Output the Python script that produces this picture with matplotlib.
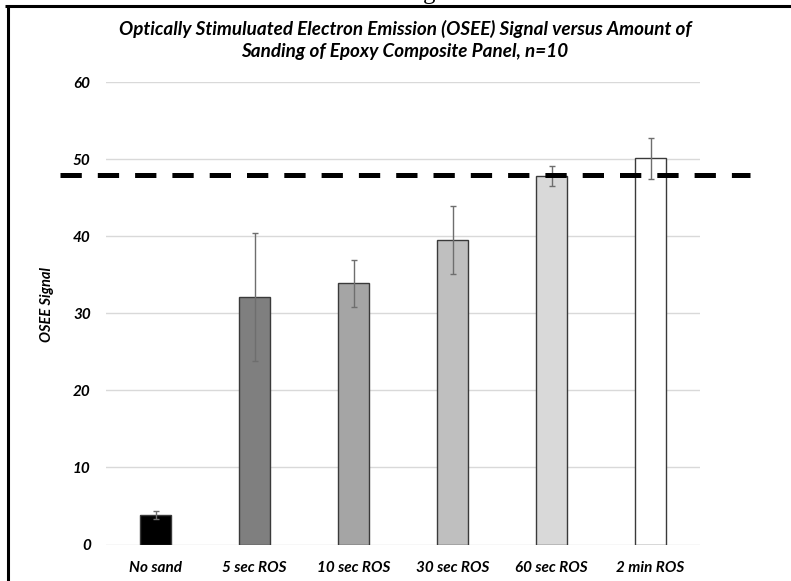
import matplotlib
matplotlib.use('Agg')
from matplotlib import pyplot as plt
from matplotlib.lines import Line2D
import numpy as np

plt.rcParams['font.family'] = ['Lato', 'DejaVu Sans']

categories = ['No sand', '5 sec ROS', '10 sec ROS', '30 sec ROS', '60 sec ROS', '2 min ROS']
signal = [3.8, 32.1, 33.9, 39.5, 47.8, 50.1]
signal_err = [0.5, 8.3, 3.05, 4.35, 1.3, 2.7]
bar_colors = ['#000000', '#7f7f7f', '#a5a5a5', '#bfbfbf', '#d9d9d9', '#ffffff']
threshold = 48
y_ticks = [0, 10, 20, 30, 40, 50, 60]

fig = plt.figure(figsize=(7.91, 5.81), dpi=100)
ax = fig.add_axes([106 / 791, 36.5 / 581, 594 / 791, 462.5 / 581])

x = np.arange(len(categories))
ax.bar(x, signal, width=0.31, color=bar_colors, edgecolor='#3a3a3a', linewidth=1.0, zorder=2)
ax.errorbar(x, signal, yerr=signal_err, fmt='none', ecolor='#6e6e6e', elinewidth=1.0,
            capsize=2.5, capthick=1.0, zorder=3)

# threshold line reaches past the plot area on both sides
ax.plot([-0.965, 6.005], [threshold, threshold], color='black', lw=3.6,
        dashes=(4.26, 3.2), solid_capstyle='butt', dash_capstyle='butt',
        clip_on=False, zorder=4)

ax.set_xlim(-0.5, 5.5)
ax.set_ylim(0, 60)
ax.set_yticks(y_ticks)
ax.set_xticks(x)
ax.set_xticklabels(categories)
ax.yaxis.grid(True, color='#d9d9d9', lw=1.0)
ax.set_axisbelow(True)
for s in ax.spines.values():
    s.set_visible(False)
ax.tick_params(length=0)
ax.tick_params(axis='y', pad=11)
ax.tick_params(axis='x', pad=12)
for lab in ax.get_xticklabels() + ax.get_yticklabels():
    lab.set_fontsize(11)
    lab.set_fontweight('bold')
    lab.set_fontstyle('italic')

ax.set_ylabel('OSEE Signal', fontsize=10.5, fontweight='bold', fontstyle='italic')
ax.yaxis.set_label_coords(-0.088, 0.52)

fig.text(405 / 791, 1 - 29 / 581,
         'Optically Stimuluated Electron Emission (OSEE) Signal versus Amount of',
         ha='center', va='center', fontsize=13.6, fontweight='bold', fontstyle='italic')
fig.text(405 / 791, 1 - 52 / 581,
         'Sanding of Epoxy Composite Panel, n=10',
         ha='center', va='center', fontsize=13.6, fontweight='bold', fontstyle='italic')

# clipped caption letter above the frame
fig.text(429 / 791, 1 + 1 / 581, 'g', family='Liberation Serif', fontsize=18,
         ha='center', va='baseline')

# frame lines at top and left
fig.add_artist(Line2D([5 / 791, 1], [1 - 6.3 / 581] * 2, color='black', lw=2.2,
                      transform=fig.transFigure, solid_capstyle='butt'))
fig.add_artist(Line2D([7.5 / 791] * 2, [0, 1 - 5 / 581], color='black', lw=2.2,
                      transform=fig.transFigure, solid_capstyle='butt'))

fig.savefig('out.png', dpi=100)
